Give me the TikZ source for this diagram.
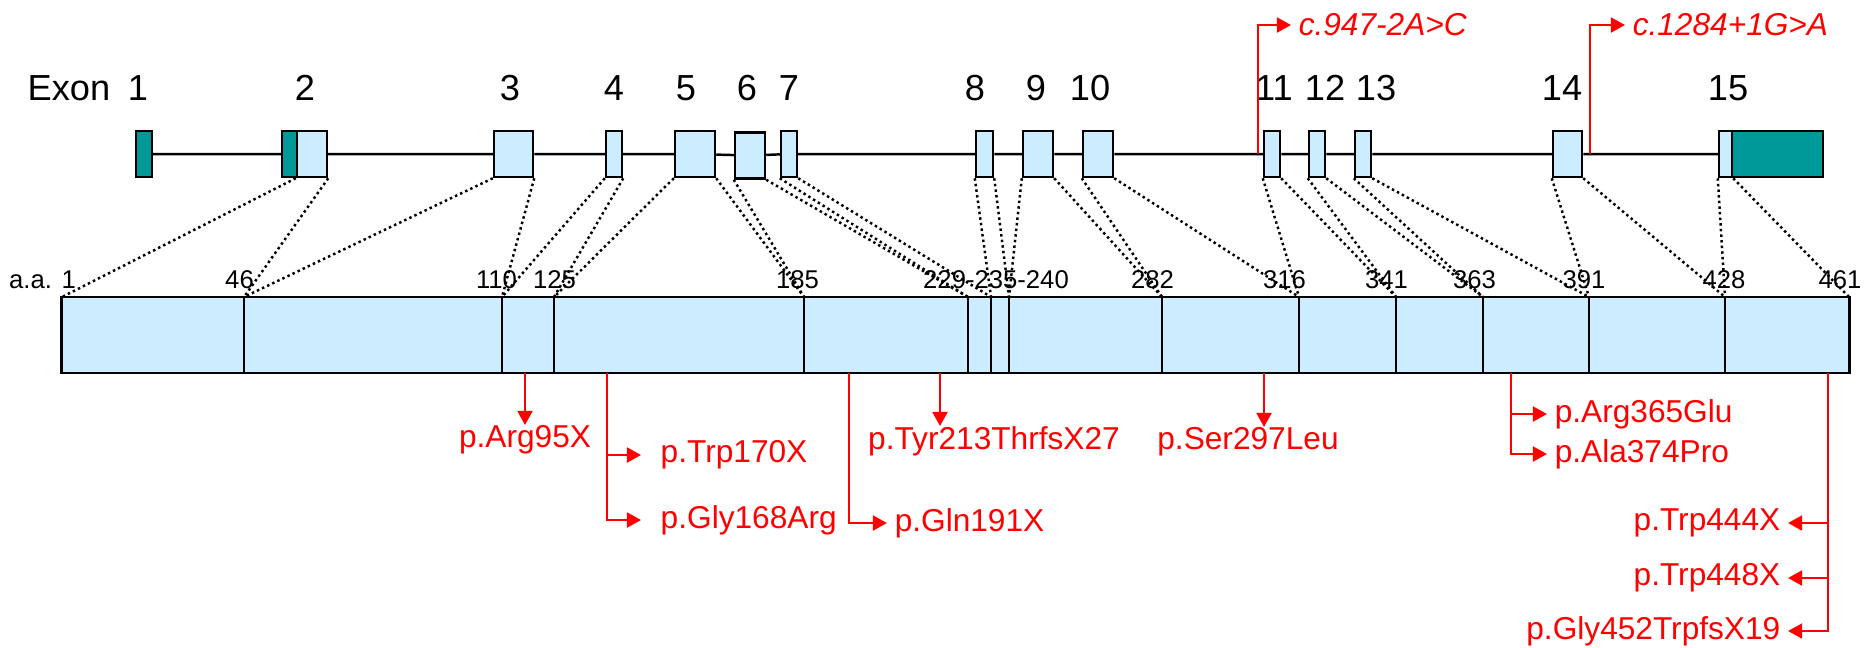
\documentclass[tikz,border=0pt]{standalone}
\usepackage{fontspec}
\setmainfont{Liberation Sans}
\usetikzlibrary{arrows.meta}
\definecolor{exblue}{RGB}{204,236,255}
\definecolor{exteal}{RGB}{0,153,153}
\tikzset{
  exon/.style={draw, fill=exblue, minimum height=0.46cm, inner sep=0pt, line width=0.7pt},
  utr/.style={exon, fill=exteal},
  exnum/.style={font=\fontsize{10.3}{12}\selectfont, inner sep=0pt, anchor=base},
  aalab/.style={font=\fontsize{7.3}{8}\selectfont, inner sep=0pt, anchor=base},
  link/.style={line width=0.7pt, dash pattern=on 0.7pt off 0.9pt},
  mut/.style={text=red, font=\fontsize{9}{10}\selectfont, inner xsep=2pt, inner ysep=0pt},
  splice/.style={mut, font=\itshape\fontsize{9}{10}\selectfont},
  mutarrow/.style={red, line width=0.75pt, -{Triangle[length=4pt,width=4.2pt]}}
}
\begin{document}
\begin{tikzpicture}[x=0.01cm,y=-0.01cm]
        \useasboundingbox (0,0) rectangle (1864,647);

        % Esoni
        \node[utr, minimum width=0.16cm] (e1) at (144,154) {};
        \node[utr, minimum width=0.15cm] (e2u) at (289.5,154) {};
        \node[exon, minimum width=0.30cm] (e2) at (312,154) {};
        \node[exon, minimum width=0.39cm] (e3) at (513.5,154) {};
        \node[exon, minimum width=0.16cm] (e4) at (614,154) {};
        \node[exon, minimum width=0.40cm] (e5) at (695,154) {};
        \node[exon, minimum width=0.30cm] (e6) at (750,155.5) {};
        \node[exon, minimum width=0.16cm] (e7) at (789,154) {};
        \node[exon, minimum width=0.17cm] (e8) at (984.5,154) {};
        \node[exon, minimum width=0.30cm] (e9) at (1038,154) {};
        \node[exon, minimum width=0.30cm] (e10) at (1098,154) {};
        \node[exon, minimum width=0.16cm] (e11) at (1272,154) {};
        \node[exon, minimum width=0.16cm] (e12) at (1317,154) {};
        \node[exon, minimum width=0.16cm] (e13) at (1363,154) {};
        \node[exon, minimum width=0.29cm] (e14) at (1567.5,154) {};
        \node[exon, minimum width=0.13cm] (e15) at (1725.5,154) {};
        \node[utr, minimum width=0.91cm] (e15u) at (1777.5,154) {};

        % Introni
        \draw[line width=0.7pt] (e1) -- (e2u) (e2) -- (e3) (e3) -- (e4) (e4) -- (e5) (e5) -- (e6) (e6) -- (e7)
          (e7) -- (e8) (e8) -- (e9) (e9) -- (e10) (e10) -- (e11) (e11) -- (e12) (e12) -- (e13) (e13) -- (e14) (e14) -- (e15);

        % Numeri degli esoni
        \node[exnum, anchor=base west] (lexon) at (27,100) {Exon};
        \node[exnum] (x1) at (138,100) {1};
        \node[exnum] (x2) at (305,100) {2};
        \node[exnum] (x3) at (510,100) {3};
        \node[exnum] (x4) at (614,100) {4};
        \node[exnum] (x5) at (686,100) {5};
        \node[exnum] (x6) at (747,100) {6};
        \node[exnum] (x7) at (789,100) {7};
        \node[exnum] (x8) at (975,100) {8};
        \node[exnum] (x9) at (1036,100) {9};
        \node[exnum] (x10) at (1090,100) {10};
        \node[exnum] (x11) at (1274,100) {11};
        \node[exnum] (x12) at (1325,100) {12};
        \node[exnum] (x13) at (1376,100) {13};
        \node[exnum] (x14) at (1562,100) {14};
        \node[exnum] (x15) at (1728,100) {15};

        % Proteina
        \node[draw, fill=exblue, line width=0.6pt, inner sep=0pt, minimum width=17.87cm, minimum height=0.76cm] (bar) at (955.5,335) {};
        \coordinate (a1) at (62,297);
        \coordinate (a46) at (244,297);
        \coordinate (a110) at (502,297);
        \coordinate (a125) at (554,297);
        \coordinate (a185) at (804,297);
        \coordinate (a229) at (968,297);
        \coordinate (a235) at (991,297);
        \coordinate (a240) at (1009,297);
        \coordinate (a282) at (1162,297);
        \coordinate (a316) at (1299,297);
        \coordinate (a341) at (1396,297);
        \coordinate (a363) at (1483,297);
        \coordinate (a391) at (1589,297);
        \coordinate (a428) at (1725,297);
        \coordinate (a461) at (1849,297);
        \draw[line width=0.6pt] (a46) -- (a46 |- bar.south) (a110) -- (a110 |- bar.south) (a125) -- (a125 |- bar.south)
          (a185) -- (a185 |- bar.south) (a229) -- (a229 |- bar.south) (a235) -- (a235 |- bar.south)
          (a240) -- (a240 |- bar.south) (a282) -- (a282 |- bar.south) (a316) -- (a316 |- bar.south)
          (a341) -- (a341 |- bar.south) (a363) -- (a363 |- bar.south) (a391) -- (a391 |- bar.south)
          (a428) -- (a428 |- bar.south);

        % Linee tratteggiate esone -> aminoacidi
        \draw[link] (e2.south west) -- (a1) (e2.south east) -- (a46);
        \draw[link] (e3.south west) -- (a46) (e3.south east) -- (a110);
        \draw[link] (e4.south west) -- (a110) (e4.south east) -- (a125);
        \draw[link] (e5.south west) -- (a125) (e5.south east) -- (a185);
        \draw[link] (e6.south west) -- (a185) (e6.south east) -- (a229);
        \draw[link] (e7.south west) -- (a229) (e7.south east) -- (a235);
        \draw[link] (e8.south west) -- (a235) (e8.south east) -- (a240);
        \draw[link] (e9.south west) -- (a240) (e9.south east) -- (a282);
        \draw[link] (e10.south west) -- (a282) (e10.south east) -- (a316);
        \draw[link] (e11.south west) -- (a316) (e11.south east) -- (a341);
        \draw[link] (e12.south west) -- (a341) (e12.south east) -- (a363);
        \draw[link] (e13.south west) -- (a363) (e13.south east) -- (a391);
        \draw[link] (e14.south west) -- (a391) (e14.south east) -- (a428);
        \draw[link] (e15.south west) -- (a428) (e15.south east) -- (a461);

        % Posizioni degli aminoacidi
        \node[aalab] (n1) at (42.5,288) {a.a. 1};
        \node[aalab] (n46) at (239.5,288) {46};
        \node[aalab] (n110) at (496.5,288) {110};
        \node[aalab] (n125) at (554.5,288) {125};
        \node[aalab] (n185) at (797.5,288) {185};
        \node[aalab] (n229) at (996,288) {229-235-240};
        \node[aalab] (n282) at (1152.5,288) {282};
        \node[aalab] (n316) at (1284.5,288) {316};
        \node[aalab] (n341) at (1386.5,288) {341};
        \node[aalab] (n363) at (1474.5,288) {363};
        \node[aalab] (n391) at (1584,288) {391};
        \node[aalab] (n428) at (1724,288) {428};
        \node[aalab] (n461) at (1840,288) {461};

        % Mutazioni di splicing
        \coordinate (s947) at (1258,154);
        \coordinate (s1284) at (1590,154);
        \node[splice, anchor=west] (c947) at (1291,25) {c.947-2A>C};
        \node[splice, anchor=west] (c1284) at (1625,25) {c.1284+1G>A};
        \draw[mutarrow] (s947) |- (c947.west);
        \draw[mutarrow] (s1284) |- (c1284.west);

        % Mutazioni nella proteina
        \coordinate (m95) at (525,373);
        \coordinate (m170) at (607,373);
        \coordinate (m191) at (849,373);
        \coordinate (m213) at (940,373);
        \coordinate (m297) at (1264,373);
        \coordinate (m365) at (1511,373);
        \coordinate (m444) at (1828,373);
        \node[mut, anchor=north] (t95) at (525,425) {p.Arg95X};
        \node[mut, anchor=north] (t213) at (994,426) {p.Tyr213ThrfsX27};
        \node[mut, anchor=north] (t297) at (1248,427) {p.Ser297Leu};
        \node[mut, anchor=west] (t170) at (653,455) {p.Trp170X};
        \node[mut, anchor=west] (t168) at (653,520) {p.Gly168Arg};
        \node[mut, anchor=west] (t191) at (887,523) {p.Gln191X};
        \node[mut, anchor=west] (t365) at (1547,414) {p.Arg365Glu};
        \node[mut, anchor=west] (t374) at (1547,454) {p.Ala374Pro};
        \node[mut, anchor=east] (t444) at (1788,523) {p.Trp444X};
        \node[mut, anchor=east] (t448) at (1788,578) {p.Trp448X};
        \node[mut, anchor=east] (t452) at (1788,631) {p.Gly452TrpfsX19};
        \draw[mutarrow] (m95) -- (t95.north);
        \draw[mutarrow] (m213) -- (m213 |- t213.north);
        \draw[mutarrow] (m297) -- (m297 |- t297.north);
        \draw[mutarrow, shorten >=3.4pt] (m170) |- (t168.west);
        \draw[mutarrow, shorten >=3.4pt] (m170 |- t170.west) -- (t170.west);
        \draw[mutarrow] (m191) |- (t191.west);
        \draw[mutarrow] (m365) |- (t374.west);
        \draw[mutarrow] (m365 |- t365.west) -- (t365.west);
        \draw[mutarrow] (m444) |- (t452.east);
        \draw[mutarrow] (m444 |- t444.east) -- (t444.east);
        \draw[mutarrow] (m444 |- t448.east) -- (t448.east);
      \end{tikzpicture}
\end{document}
